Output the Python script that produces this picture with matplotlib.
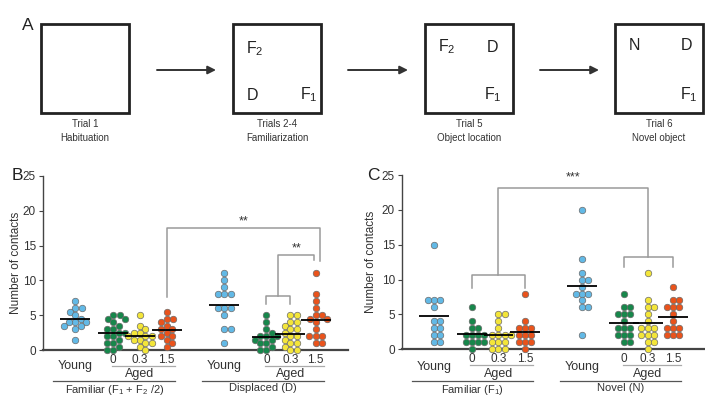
import numpy as np
import matplotlib
matplotlib.use("Agg")
import matplotlib.pyplot as plt
from matplotlib.patches import Rectangle

plt.rcParams['font.family'] = ['Liberation Sans', 'DejaVu Sans']
plt.rcParams['mathtext.fontset'] = 'custom'
plt.rcParams['mathtext.rm'] = 'Liberation Sans'
plt.rcParams['mathtext.it'] = 'Liberation Sans:italic'

# ---- data (number of contacts per animal) ----
group_labels = ["Young", "0", "0.3", "1.5"]
colors = ["#62B9E6", "#17874B", "#F3E539", "#E9531C"]

# panel B : object location
b_fam_young = [7, 6, 6, 5.5, 5, 4.5, 4, 4, 4, 3.5, 3.5, 3, 1.5]
b_fam_0 = [5, 5, 4.5, 4.5, 4, 3.5, 3, 3, 2.5, 2.5, 2, 2, 1.5, 1, 1, 0.5, 0, 0]
b_fam_03 = [5, 3.5, 3, 2.5, 2.5, 2, 2, 2, 1.5, 1.5, 1, 1, 0.5, 0]
b_fam_15 = [5.5, 4.5, 4.5, 4, 3.5, 3, 3, 2.5, 2, 2, 1.5, 1, 0.5]
b_dis_young = [11, 10, 9, 8, 8, 8, 6, 6, 6, 5, 3, 3, 1]
b_dis_0 = [5, 4, 3, 2.5, 2, 2, 2, 1.5, 1.5, 1, 1, 0.5, 0, 0]
b_dis_03 = [5, 5, 4, 4, 3.5, 3, 3, 2.5, 2, 2, 1.5, 1, 1, 0.5, 0, 0]
b_dis_15 = [11, 8, 7, 6, 5, 5, 4.5, 4.5, 4, 3, 2, 2, 2, 1, 1]

# panel C : novel object
c_fam_young = [15, 7, 7, 7, 6, 4, 4, 3, 3, 2, 2, 1, 1]
c_fam_0 = [6, 4, 3, 3, 2, 2, 2, 2, 1, 1, 1, 1, 0]
c_fam_03 = [5, 5, 4, 3, 2, 2, 2, 2, 1, 1, 1, 0, 0, 0]
c_fam_15 = [8, 4, 3, 3, 3, 2, 2, 2, 1, 1, 1, 0]
c_nov_young = [20, 13, 11, 10, 10, 9, 8, 8, 8, 7, 6, 6, 2]
c_nov_0 = [8, 6, 6, 5, 5, 5, 4, 3, 3, 3, 2, 2, 2, 1, 1]
c_nov_03 = [11, 7, 6, 6, 5, 4, 3, 3, 3, 2, 2, 2, 1, 1, 0]
c_nov_15 = [9, 7, 7, 6, 6, 6, 5, 4, 3, 3, 3, 2, 2, 2]

b_groups = [b_fam_young, b_fam_0, b_fam_03, b_fam_15,
            b_dis_young, b_dis_0, b_dis_03, b_dis_15]
c_groups = [c_fam_young, c_fam_0, c_fam_03, c_fam_15,
            c_nov_young, c_nov_0, c_nov_03, c_nov_15]

pos = [1.15, 2.5, 3.45, 4.4, 6.45, 7.95, 8.8, 9.7]
XMAX = 10.85
SX, SY, DOT = 28.0, 6.98, 6.3   # px per x unit, px per y unit, dot spacing px

TXT = "#333333"
GRAY = "#9a9a9a"


def swarm(vals):
    # simple beeswarm: place each dot as near the centre as possible
    vals = np.asarray(vals, float)
    offs = np.zeros(len(vals))
    placed = []
    for i in np.argsort(-vals, kind="stable"):
        y = vals[i] * SY
        forb = []
        for xo, yo in placed:
            dy = abs(y - yo)
            if dy < DOT:
                w = np.sqrt(DOT ** 2 - dy ** 2)
                forb.append((xo - w, xo + w))
        cands = [0.0] + [a for a, b in forb] + [b for a, b in forb]
        cands.sort(key=lambda c: (round(abs(c), 3), -c))
        for c in cands:
            if all(not (a + 1e-6 < c < b - 1e-6) for a, b in forb):
                break
        placed.append((c, y))
        offs[i] = c / SX
    return offs


def dot_panel(ax, groups):
    for k, vals in enumerate(groups):
        col = colors[k % 4]
        xs = pos[k] + swarm(vals)
        ax.scatter(xs, vals, s=22, color=col, edgecolor="#6a6a6a",
                   linewidth=0.5, zorder=3, clip_on=False)
        m = np.mean(vals)
        ax.plot([pos[k] - 0.53, pos[k] + 0.53], [m, m], color="black",
                lw=1.3, zorder=4, solid_capstyle="butt")
    ax.set_xlim(0, XMAX)
    ax.set_ylim(0, 25)
    ax.set_yticks([0, 5, 10, 15, 20, 25])
    ax.set_xticks([])
    ax.spines['top'].set_visible(False)
    ax.spines['right'].set_visible(False)
    ax.spines['left'].set_color("#444444")
    ax.spines['left'].set_linewidth(1.0)
    ax.spines['bottom'].set_color("#444444")
    ax.spines['bottom'].set_linewidth(1.6)
    ax.tick_params(axis='y', length=3, width=0.8, colors="#444444",
                   labelsize=8.5, labelcolor=TXT, pad=2)
    ax.set_ylabel("Number of contacts", fontsize=8.5, color=TXT)


def under_labels(ax, y_young, y_num, y_up, y_aged, y_low, y_title, titles):
    tr = ax.get_xaxis_transform()
    for g in range(2):
        p = pos[4 * g:4 * g + 4]
        ax.text(p[0], y_young, "Young", transform=tr, ha="center",
                va="center", fontsize=9, color=TXT, clip_on=False)
        for j in range(1, 4):
            ax.text(p[j], y_num, group_labels[j], transform=tr, ha="center",
                    va="center", fontsize=8.5, color=TXT, clip_on=False)
        ax.plot([p[1] - 0.05, p[3] + 0.3], [y_up, y_up], transform=tr,
                color="#aaaaaa", lw=0.9, clip_on=False)
        ax.text(p[2], y_aged, "Aged", transform=tr, ha="center",
                va="center", fontsize=9, color=TXT, clip_on=False)
        x0 = p[0] - 0.78
        x1 = p[3] + 0.3
        ax.plot([x0, x1], [y_low, y_low], transform=tr, color="#555555",
                lw=0.9, clip_on=False)
        ax.text((x0 + x1) / 2, y_title, titles[g], transform=tr,
                ha="center", va="top", fontsize=8, color=TXT,
                clip_on=False)


def bracket(ax, pts):
    xs, ys = zip(*pts)
    ax.plot(xs, ys, color=GRAY, lw=1.1, clip_on=False, zorder=2)


fig = plt.figure(figsize=(7.05, 3.98), dpi=100)

# ---- panel A : schematic ----
axA = fig.add_axes([0, 0, 1, 1])
axA.set_xlim(0, 705)
axA.set_ylim(398, 0)
axA.axis("off")

boxes = [41, 233, 425, 615]
box_titles = [("Trial 1", "Habituation"), ("Trials 2-4", "Familiarization"),
              ("Trial 5", "Object location"), ("Trial 6", "Novel object")]
for bx, (t1, t2) in zip(boxes, box_titles):
    axA.add_patch(Rectangle((bx, 24), 88, 89, fill=False,
                            edgecolor="#222222", lw=2.0))
    axA.text(bx + 44, 124, t1, ha="center", va="center", fontsize=7,
             color=TXT)
    axA.text(bx + 44, 138, t2, ha="center", va="center", fontsize=7,
             color=TXT)

F1 = r"F$_\mathregular{1}$"
F2 = r"F$_\mathregular{2}$"
box_items = [
    (255, 49, F2), (252, 95, "D"), (309, 95, F1),
    (447, 47, F2), (493, 47, "D"), (493, 95, F1),
    (634, 45, "N"), (687, 45, "D"), (689, 95, F1),
]
for x, y, s in box_items:
    axA.text(x, y, s, ha="center", va="center", fontsize=11.5,
             color="#222222")

for x0, x1 in [(157, 216), (348, 408), (540, 599)]:
    axA.annotate("", xy=(x1, 70), xytext=(x0, 70),
                 arrowprops=dict(arrowstyle="-|>", color="#333333", lw=1.4,
                                 mutation_scale=12, shrinkA=0, shrinkB=0))

axA.text(28, 25, "A", ha="center", va="center", fontsize=12.5, color="#222222")
axA.text(17, 176, "B", ha="center", va="center", fontsize=12.5, color="#222222")
axA.text(373, 176, "C", ha="center", va="center", fontsize=12.5,
         color="#222222")

# ---- panel B ----
axB = fig.add_axes([43 / 705, 47.7 / 398, 305 / 705, 174.6 / 398])
dot_panel(axB, b_groups)
axB.yaxis.set_label_coords(-0.07, 0.5)
under_labels(axB, -0.092, -0.058, -0.089, -0.136, -0.176, -0.19,
             [r"Familiar (F$_\mathregular{1}$ + F$_\mathregular{2}$ /2)",
              "Displaced (D)"])

# bracket: familiar 1.5 vs displaced 1.5
bracket(axB, [(pos[3], 7.7), (pos[3], 17.5), (pos[7] + 0.16, 17.5),
              (pos[7] + 0.16, 12.8)])
axB.text((pos[3] + pos[7] + 0.16) / 2, 18.5, "**", ha="center",
         va="center", fontsize=9, color=TXT)
# bracket: displaced aged 0/0.3 vs 1.5
mid = (pos[5] + pos[6]) / 2
bracket(axB, [(pos[5], 6.6), (pos[5], 7.8), (pos[6], 7.8), (pos[6], 6.6)])
bracket(axB, [(mid, 7.8), (mid, 13.65), (pos[7] - 0.06, 13.65),
              (pos[7] - 0.06, 12.9)])
axB.text((mid + pos[7] - 0.06) / 2, 14.6, "**", ha="center", va="center",
         fontsize=9, color=TXT)

# ---- panel C ----
axC = fig.add_axes([402 / 705, 48.7 / 398, 303 / 705, 174.3 / 398])
dot_panel(axC, c_groups)
axC.yaxis.set_label_coords(-0.083, 0.5)
under_labels(axC, -0.1, -0.058, -0.092, -0.142, -0.182, -0.196,
             [r"Familiar (F$_\mathregular{1}$)", "Novel (N)"])

m1 = (pos[1] + pos[3]) / 2
m2 = (pos[5] + pos[7]) / 2
bracket(axC, [(pos[1], 8.75), (pos[1], 10.65), (pos[3], 10.65),
              (pos[3], 8.75)])
bracket(axC, [(pos[5], 11.85), (pos[5], 13.3), (pos[7], 13.3),
              (pos[7], 11.85)])
bracket(axC, [(m1, 10.65), (m1, 23.1), (m2, 23.1), (m2, 13.3)])
axC.text((m1 + m2) / 2, 24.6, "***", ha="center", va="center", fontsize=9,
         color=TXT)

fig.savefig("out.png", dpi=100)
